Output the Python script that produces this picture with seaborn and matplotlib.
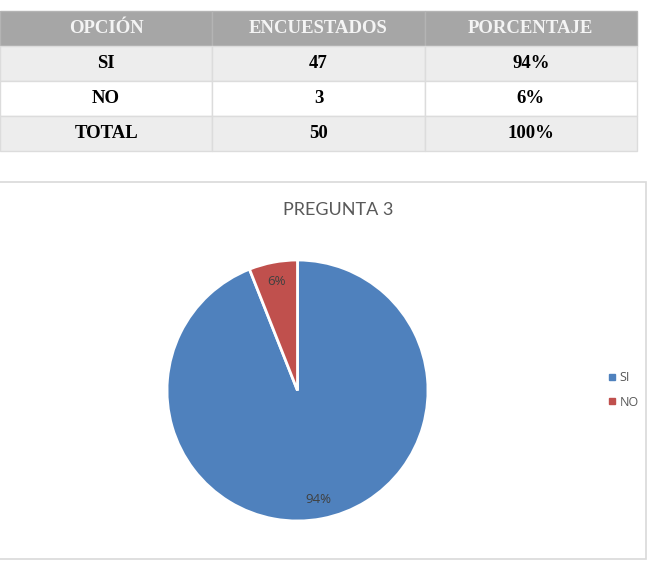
import numpy as np
import matplotlib
matplotlib.use("Agg")
import matplotlib.pyplot as plt
from matplotlib.patches import Rectangle
from matplotlib.lines import Line2D
import seaborn as sns

#--------------------------------Data----------------------------#
columnas = ["OPCIÓN", "ENCUESTADOS", "PORCENTAJE"]
opciones = ["SI", "NO", "TOTAL"]
encuestados = [47, 3, 50]
porcentajes = ["94%", "6%", "100%"]

categorias = ["SI", "NO"]
valores = [47, 3]
colores = ["#4f81bd", "#c0504d"]
titulo = "PREGUNTA 3"

#--------------------------------Figure----------------------------#
sns.set_theme(style="white")
plt.rcParams['font.family'] = ['Open Sans', 'DejaVu Sans']

W, H = 651, 570
fig = plt.figure(figsize=(W / 100, H / 100), dpi=100)
fig.patch.set_facecolor("white")

#table on top
ax_t = fig.add_axes([0, 1 - 151 / H, 637 / W, 140 / H])
ax_t.axis("off")
filas = [[o, str(e), p] for o, e, p in zip(opciones, encuestados, porcentajes)]
fondo = ["#ededed", "#ffffff", "#ededed"]
tabla = ax_t.table(cellText=filas, colLabels=columnas, bbox=[0, 0, 1, 1],
                   cellLoc="center",
                   cellColours=[[c] * 3 for c in fondo],
                   colColours=["#a6a6a6"] * 3)
tabla.auto_set_font_size(False)
for (r, c), cell in tabla.get_celld().items():
    cell.set_edgecolor("#dcdcdc")
    cell.set_linewidth(1.0)
    txt = cell.get_text()
    txt.set_fontfamily("Liberation Serif")
    txt.set_fontweight("bold")
    txt.set_fontsize(13.5)
    if r == 0:
        txt.set_color("#f4f4f4")
        cell.set_edgecolor("#b4b4b4")
    else:
        txt.set_color("black")

#chart frame
fig.patches.append(Rectangle((-0.01, 1 - 559 / H), 646 / W + 0.01, (559 - 182) / H,
                             transform=fig.transFigure, facecolor="white",
                             edgecolor="#d9d9d9", linewidth=1.2, zorder=-5))

fig.text(338 / W, 1 - 210 / H, titulo, ha="center", va="center",
         fontsize=13, color="#595959", family=["Lato", "DejaVu Sans"])

#pie
ax = fig.add_axes([167 / W, 1 - 521 / H, 261 / W, 261 / H])
ax.set_zorder(2)
pal = sns.color_palette(colores)
wedges, textos, autotextos = ax.pie(valores, colors=pal, startangle=90, counterclock=False,
                                    autopct=lambda p: "%d%%" % round(p), pctdistance=0.85,
                                    wedgeprops=dict(edgecolor="white", linewidth=2.0),
                                    textprops=dict(color="#404040", fontsize=9.5))
for w in wedges:
    w.set_clip_on(False)
ax.set_xlim(-1, 1)
ax.set_ylim(-1, 1)
ax.set_aspect("auto")
ax.axis("off")

#legend
handles = [Line2D([], [], marker="s", linestyle="none", markersize=4,
                  markerfacecolor=c, markeredgecolor=c) for c in pal]
fig.legend(handles, categorias, loc="center left", bbox_to_anchor=(596 / W, 1 - 390 / H),
           frameon=False, fontsize=9, labelcolor="#595959", handletextpad=0.2,
           labelspacing=0.9, handlelength=0.8)

fig.savefig("out.png", dpi=100, facecolor="white")
